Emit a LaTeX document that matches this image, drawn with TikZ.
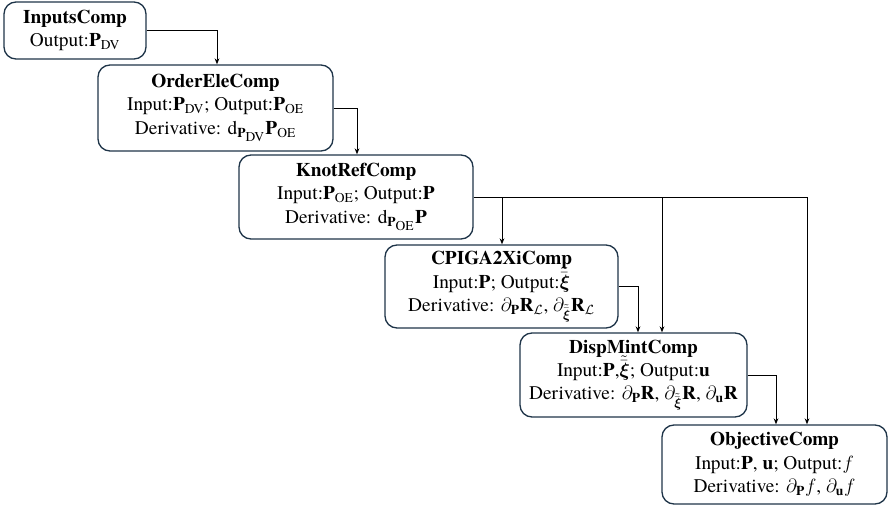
\documentclass[tikz,border=0pt]{standalone}
\usepackage{amsmath}
\usepackage{fontspec}
\setmainfont{texgyretermes}[Extension=.otf, UprightFont=*-regular, BoldFont=*-bold, ItalicFont=*-italic, BoldItalicFont=*-bolditalic]
\usetikzlibrary{arrows.meta}
\definecolor{bordercol}{RGB}{30,52,72}
\newcommand{\bfm}[1]{\text{\normalfont\bfseries #1}}
\newcommand{\rmm}[1]{\text{\normalfont #1}}
\newcommand{\xis}{\tilde{\bar{\boldsymbol{\xi}}}}
\newcommand{\xib}{\smash[t]{\xis}}
\begin{document}
\begin{tikzpicture}[x=0.75pt,y=-0.75pt,
  box/.style={draw=bordercol, line width=1pt, rounded corners=9pt, align=center, inner sep=0pt,
    font=\fontsize{14.5}{17.5}\selectfont},
  arr/.style={draw=black, line width=0.7pt, -{Stealth[length=4.5pt,width=3.5pt]}},
  ln/.style={draw=black, line width=0.7pt}]
\useasboundingbox (0,0) rectangle (893,507);
\node[box, minimum width=106.5pt, minimum height=42.75pt] (b1) at (75,30.5)
  {\textbf{InputsComp}\\Output:$\bfm{P}_{\rmm{DV}}$};
\node[box, minimum width=176.25pt, minimum height=64.5pt] (b2) at (215.5,108)
  {\textbf{OrderEleComp}\\Input:$\bfm{P}_{\rmm{DV}}$; Output:$\bfm{P}_{\rmm{OE}}$\\Derivative: $\rmm{d}_{\bfm{P}_{\scriptstyle\rmm{DV}}}\bfm{P}_{\rmm{OE}}$};
\node[box, minimum width=175.5pt, minimum height=63pt] (b3) at (356,197)
  {\textbf{KnotRefComp}\\Input:$\bfm{P}_{\rmm{OE}}$; Output:$\bfm{P}$\\Derivative: $\rmm{d}_{\bfm{P}_{\scriptstyle\rmm{OE}}}\bfm{P}$};
\node[box, minimum width=174.75pt, minimum height=62.25pt] (b4) at (501.5,286.5)
  {\textbf{CPIGA2XiComp}\\Input:$\bfm{P}$; Output:$\xib$\\Derivative: $\partial_{\bfm{P}}\bfm{R}_{\mathcal{L}}$, $\partial_{\xis}\bfm{R}_{\mathcal{L}}$};
\node[box, minimum width=170.25pt, minimum height=63pt] (b5) at (633.5,375)
  {\textbf{DispMintComp}\\Input:$\bfm{P}$,$\xib$; Output:$\bfm{u}$\\Derivative: $\partial_{\bfm{P}}\bfm{R}$, $\partial_{\xis}\bfm{R}$, $\partial_{\bfm{u}}\bfm{R}$};
\node[box, minimum width=168.75pt, minimum height=59.25pt] (b6) at (774.5,464.5)
  {\textbf{ObjectiveComp}\\Input:$\bfm{P}$, $\bfm{u}$; Output:$f$\\Derivative: $\partial_{\bfm{P}}f$, $\partial_{\bfm{u}}f$};
\coordinate (x12) at (217,0);
\coordinate (x23) at (357,0);
\coordinate (x34) at (502,0);
\coordinate (x35) at (662,0);
\coordinate (x36) at (807,0);
\coordinate (x45) at (638,0);
\coordinate (x56) at (776,0);
\draw[arr] (b1.east) -| (b2.north -| x12);
\draw[arr] (b2.east) -| (b3.north -| x23);
\draw[ln] (b3.east) -- (b3.east -| x36);
\draw[arr] (b3.east -| x34) -- (b4.north -| x34);
\draw[arr] (b3.east -| x35) -- (b5.north -| x35);
\draw[arr] (b3.east -| x36) -- (b6.north -| x36);
\draw[arr] (b4.east) -| (b5.north -| x45);
\draw[arr] (b5.east) -| (b6.north -| x56);
\end{tikzpicture}
\end{document}
